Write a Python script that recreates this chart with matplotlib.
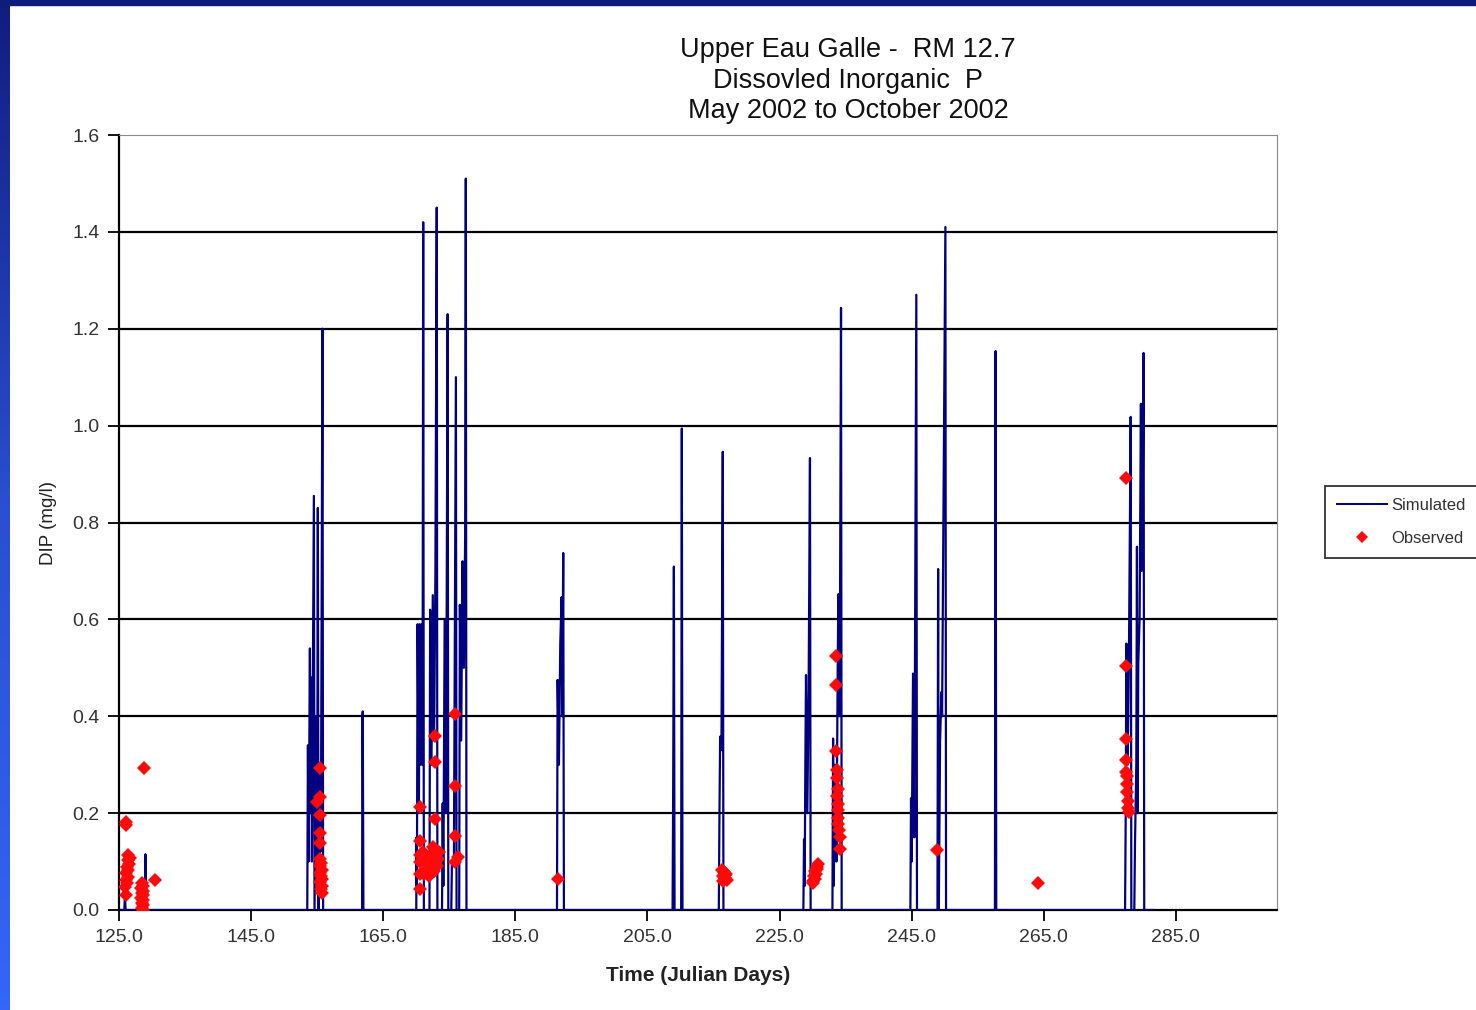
import numpy as np
import matplotlib
matplotlib.use("Agg")
import matplotlib.pyplot as plt
from matplotlib import font_manager
from matplotlib.lines import Line2D
from matplotlib.patches import Rectangle

# pick a narrow face for the headings if the system has one
names = {f.name for f in font_manager.fontManager.ttflist}
narrow = "Liberation Sans Narrow" if "Liberation Sans Narrow" in names else "Liberation Sans"
plt.rcParams["font.family"] = ["Liberation Sans", "DejaVu Sans"]

# simulated DIP (mg/l) against julian day
sim_day = [125.0, 125.8, 125.9, 126.0, 128.9, 129.0, 129.1,
           153.5, 153.6, 153.7, 153.9, 154.0, 154.1, 154.2, 154.5, 154.6, 154.9, 155.0,
           155.1, 155.2, 155.4, 155.5, 155.6, 155.8, 155.9,
           161.8, 161.85, 161.9, 162.0,
           170.0, 170.05, 170.1, 170.2, 170.4, 170.5, 170.7, 170.8, 170.95, 171.05, 171.15,
           172.0, 172.1, 172.3, 172.5, 172.7, 172.9, 173.1, 173.2,
           173.9, 174.0, 174.1, 174.3, 174.5, 174.6, 174.75, 174.85,
           175.3, 175.4, 175.7, 176.0, 176.1,
           176.5, 176.6, 176.8, 177.0, 177.2, 177.4, 177.5, 177.6,
           191.3, 191.4, 191.6, 191.8, 192.0, 192.1, 192.25, 192.35,
           208.8, 208.9, 209.0, 209.1, 210.1, 210.2, 210.3,
           215.8, 215.9, 216.0, 216.2, 216.4, 216.5,
           228.6, 228.7, 228.8, 228.9, 229.0, 229.2, 229.4, 229.6, 229.7,
           233.0, 233.1, 233.2, 233.4, 233.6, 233.8, 233.9, 234.1, 234.3, 234.4,
           244.8, 244.9, 245.0, 245.2, 245.4, 245.7, 245.8,
           248.9, 249.0, 249.1, 249.3, 249.5, 249.6, 249.8, 250.1, 250.2,
           257.6, 257.7, 257.8,
           277.3, 277.4, 277.5, 277.7, 277.9, 278.15, 278.25,
           278.7, 278.8, 279.0, 279.1, 279.2, 279.3, 279.5, 279.7, 279.8, 280.0, 280.1, 280.2,
           281.5]
sim_dip = [0.0, 0.0, 0.03, 0.0, 0.0, 0.115, 0.0,
           0.0, 0.34, 0.10, 0.54, 0.20, 0.48, 0.10, 0.855, 0.0, 0.40, 0.10,
           0.83, 0.0, 0.30, 0.12, 0.30, 1.20, 0.0,
           0.0, 0.40, 0.41, 0.0,
           0.0, 0.15, 0.05, 0.59, 0.20, 0.59, 0.30, 0.59, 0.30, 1.42, 0.0,
           0.0, 0.62, 0.30, 0.65, 0.35, 0.70, 1.45, 0.0,
           0.0, 0.22, 0.05, 0.60, 0.20, 0.60, 1.23, 0.0,
           0.0, 0.10, 0.10, 1.10, 0.0,
           0.0, 0.63, 0.35, 0.72, 0.50, 0.77, 1.51, 0.0,
           0.0, 0.475, 0.30, 0.55, 0.646, 0.40, 0.737, 0.0,
           0.0, 0.275, 0.709, 0.0, 0.0, 0.994, 0.0,
           0.0, 0.20, 0.358, 0.33, 0.946, 0.0,
           0.0, 0.146, 0.05, 0.30, 0.485, 0.20, 0.46, 0.933, 0.0,
           0.0, 0.354, 0.05, 0.30, 0.10, 0.50, 0.652, 0.40, 1.243, 0.0,
           0.0, 0.231, 0.10, 0.488, 0.15, 1.27, 0.0,
           0.0, 0.704, 0.0, 0.35, 0.45, 0.40, 0.795, 1.41, 0.0,
           0.0, 1.154, 0.0,
           0.0, 0.20, 0.55, 0.30, 0.55, 1.018, 0.0,
           0.0, 0.134, 0.30, 0.75, 0.20, 0.51, 0.60, 1.045, 0.70, 0.90, 1.15, 0.0,
           0.0]

# observed grab samples
obs_day = [126.0, 126.0, 126.4, 126.6, 126.3, 126.5, 126.2, 126.4, 126.1, 126.3, 126.0, 126.2, 125.9, 126.0,
           128.5, 128.7, 128.4, 128.6, 128.5, 128.7, 128.4, 128.6, 128.5, 128.6, 128.5, 128.7,
           128.8, 130.4,
           155.5, 154.9, 155.5, 155.4, 155.5, 155.5, 155.4, 155.6, 155.5, 155.7, 155.4, 155.6,
           155.8, 155.5, 155.7, 155.6, 155.8,
           170.6, 170.6, 170.6, 170.6, 170.6, 170.6,
           171.0, 171.3, 171.6, 171.9, 172.2, 172.5, 172.7, 172.9, 173.1, 173.3, 171.2, 172.0, 172.8, 173.5,
           172.8, 172.8, 172.8,
           175.9, 175.9, 175.9, 175.9, 176.3,
           191.4,
           216.3, 216.6, 216.9, 216.4, 216.7, 217.0, 216.5, 216.8,
           230.0, 230.2, 230.4, 230.6, 230.8, 230.3, 230.5, 230.7, 230.1,
           233.6, 233.6, 233.5, 233.7, 233.7, 233.8, 233.7, 233.8, 233.8, 233.9, 233.9, 234.0, 234.1, 234.1,
           248.8,
           264.1,
           277.5, 277.5, 277.5, 277.5, 277.5, 277.6, 277.6, 277.6, 277.7, 277.8, 277.9]
obs_dip = [0.182, 0.176, 0.114, 0.108, 0.103, 0.095, 0.089, 0.082, 0.076, 0.069, 0.062, 0.055, 0.048, 0.031,
           0.056, 0.050, 0.045, 0.040, 0.035, 0.030, 0.025, 0.020, 0.015, 0.010, 0.005, 0.0,
           0.293, 0.062,
           0.294, 0.224, 0.233, 0.196, 0.159, 0.139, 0.106, 0.098, 0.090, 0.083, 0.076, 0.070,
           0.063, 0.057, 0.050, 0.043, 0.036,
           0.212, 0.143, 0.114, 0.099, 0.074, 0.044,
           0.120, 0.100, 0.085, 0.110, 0.095, 0.130, 0.080, 0.115, 0.090, 0.105, 0.075, 0.070, 0.100, 0.120,
           0.360, 0.306, 0.188,
           0.405, 0.257, 0.153, 0.099, 0.109,
           0.064,
           0.082, 0.078, 0.074, 0.070, 0.066, 0.062, 0.060, 0.072,
           0.060, 0.070, 0.080, 0.088, 0.095, 0.065, 0.075, 0.085, 0.055,
           0.525, 0.464, 0.329, 0.289, 0.273, 0.250, 0.235, 0.219, 0.206, 0.190, 0.178, 0.165, 0.150, 0.126,
           0.124,
           0.056,
           0.892, 0.504, 0.354, 0.309, 0.285, 0.277, 0.260, 0.244, 0.225, 0.210, 0.203]

x_ticks = [125.0, 145.0, 165.0, 185.0, 205.0, 225.0, 245.0, 265.0, 285.0]
y_ticks = [0.0, 0.2, 0.4, 0.6, 0.8, 1.0, 1.2, 1.4, 1.6]

fig = plt.figure(figsize=(14.76, 10.10), dpi=100)
fig.patch.set_facecolor("white")

# slide frame: navy strip on top, blue gradient down the left side
fig.patches.append(Rectangle((0, 1 - 5 / 1010), 1, 5 / 1010, transform=fig.transFigure,
                             color="#0e1c7c", zorder=0))
strip = fig.add_axes([0, 0, 10 / 1476, 1])
grad = np.linspace(0, 1, 256).reshape(-1, 1)
cmap = matplotlib.colors.LinearSegmentedColormap.from_list("frame", ["#111d7e", "#2a4fd0", "#3466f7"])
strip.imshow(grad, aspect="auto", cmap=cmap, extent=[0, 1, 0, 1], origin="upper")
strip.axis("off")

ax = fig.add_axes([119 / 1476, 100 / 1010, 1158 / 1476, 775 / 1010])
ax.set_xlim(125, 300.3)
ax.set_ylim(0, 1.6)

for y in y_ticks[1:-1]:
    ax.axhline(y, color="black", lw=1.6, zorder=1)

ax.plot(sim_day, sim_dip, color="#000080", lw=1.6, zorder=3, label="Simulated")
ax.plot(obs_day, obs_dip, linestyle="none", marker="D", ms=7.5, color="#ff0a0a", mew=0,
        zorder=4, label="Observed")

ax.set_xticks(x_ticks)
ax.set_xticklabels([f"{t:.1f}" for t in x_ticks])
ax.set_yticks(y_ticks)
ax.set_yticklabels([f"{t:.1f}" for t in y_ticks])
ax.tick_params(axis="both", direction="out", length=8, width=1.3, colors="black",
               labelsize=14, labelcolor="#333333", pad=6)

ax.spines["left"].set_color("black")
ax.spines["left"].set_linewidth(1.6)
ax.spines["bottom"].set_color("black")
ax.spines["bottom"].set_linewidth(1.6)
ax.spines["top"].set_color("#8a8a8a")
ax.spines["right"].set_color("#8a8a8a")

ax.set_xlabel("Time (Julian Days)", fontsize=15, fontweight="bold", color="#222222",
              family=narrow, labelpad=14)
fig.text(48 / 1476, 1 - 523 / 1010, "DIP (mg/l)", rotation=90, ha="center", va="center",
         fontsize=13.5, color="#222222")

title_lines = ["Upper Eau Galle -  RM 12.7", "Dissovled Inorganic  P", "May 2002 to October 2002"]
for i, line in enumerate(title_lines):
    fig.text(848 / 1476, 1 - (50 + 30.5 * i) / 1010, line, ha="center", va="center",
             fontsize=19.5, color="#111111", family=narrow)

handles = [Line2D([], [], color="#000080", lw=1.4),
           Line2D([], [], linestyle="none", marker="D", ms=6, color="#ff0a0a", mew=0)]
leg = fig.legend(handles, ["Simulated", "Observed"], loc="upper left",
                 bbox_to_anchor=(1325 / 1476, 1 - 486 / 1010), fontsize=12, frameon=True,
                 fancybox=False, edgecolor="black", handlelength=3.0, handletextpad=0.3,
                 borderpad=0.7, labelspacing=1.1, borderaxespad=0)
leg.get_frame().set_linewidth(1.3)
for t in leg.get_texts():
    t.set_color("#333333")

fig.savefig("out.png", dpi=100, facecolor="white")
